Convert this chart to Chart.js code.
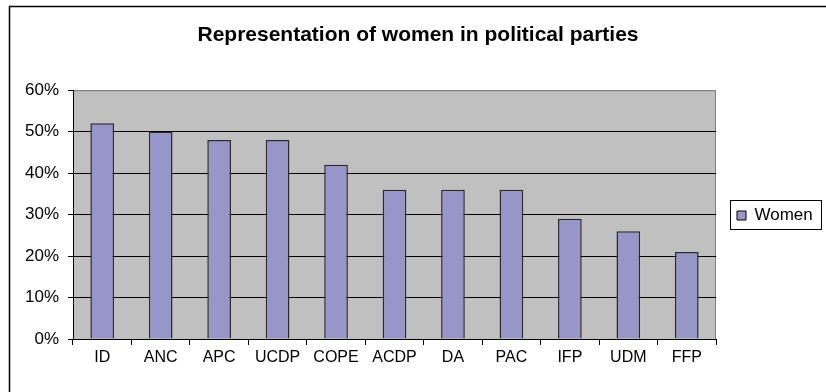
<!DOCTYPE html>
<html>
<head>
<meta charset="utf-8">
<script src="https://cdn.jsdelivr.net/npm/chart.js@4/dist/chart.umd.min.js"></script>
<style>
  html, body { margin: 0; padding: 0; background: #fff; }
  canvas { display: block; }
</style>
</head>
<body>
<canvas id="womenChart" width="826" height="392"></canvas>
<script>
// data
const parties = ["ID", "ANC", "APC", "UCDP", "COPE", "ACDP", "DA", "PAC", "IFP", "UDM", "FFP"];
const womenShare = [52, 50, 48, 48, 42, 36, 36, 36, 29, 26, 21];
const yTicks = [0, 10, 20, 30, 40, 50, 60];
const seriesName = "Women";
const chartTitle = "Representation of women in political parties";

const FONT = "'Liberation Sans', Arial, sans-serif";

// white page, outer chart border, grey plot area
const frame = {
  id: "frame",
  beforeDraw(chart) {
    const ctx = chart.ctx;
    const a = chart.chartArea;
    ctx.save();
    ctx.fillStyle = "#fff";
    ctx.fillRect(0, 0, chart.width, chart.height);
    ctx.strokeStyle = "#000";
    ctx.lineWidth = 1.5;
    ctx.strokeRect(9.5, 6.5, chart.width + 20, chart.height + 20);
    ctx.fillStyle = "#C0C0C0";
    ctx.fillRect(a.left, a.top, a.right - a.left, a.bottom - a.top);
    ctx.strokeStyle = "#808080";
    ctx.lineWidth = 1;
    ctx.strokeRect(a.left + 0.5, a.top + 0.5, a.right - a.left - 1, a.bottom - a.top);
    ctx.restore();
  }
};

// move the legend next to the plot and put a box round it
const legendBox = {
  id: "legendBox",
  afterLayout(chart) {
    const lg = chart.legend;
    const pad = lg.options.labels.padding;
    lg.left = 737 - pad;
    lg.top = 207 - pad;
  },
  afterDraw(chart) {
    const ctx = chart.ctx;
    ctx.save();
    ctx.strokeStyle = "#000";
    ctx.lineWidth = 1;
    ctx.strokeRect(730.5, 200.5, 91, 29);
    ctx.restore();
  }
};

new Chart(document.getElementById("womenChart"), {
  type: "bar",
  data: {
    labels: parties,
    datasets: [
      {
        label: seriesName,
        data: womenShare,
        backgroundColor: "#9696C8",
        borderColor: "#2a2a2a",
        borderWidth: 1.5,
        barPercentage: 0.405,
        categoryPercentage: 1
      }
    ]
  },
  options: {
    responsive: false,
    animation: false,
    layout: { padding: { left: 10, top: 6, right: 0, bottom: 0 } },
    plugins: {
      title: {
        display: true,
        text: chartTitle,
        color: "#000",
        font: { family: FONT, size: 21, weight: "bold", lineHeight: 1.2 },
        padding: { top: 17, bottom: 42 }
      },
      legend: {
        display: true,
        position: "right",
        align: "start",
        maxWidth: 110,
        labels: {
          color: "#000",
          font: { family: FONT, size: 17 },
          boxWidth: 9,
          boxHeight: 9,
          padding: 40,
          generateLabels(chart) {
            const ds = chart.data.datasets[0];
            return [{
              text: ds.label,
              fillStyle: ds.backgroundColor,
              strokeStyle: "#000",
              lineWidth: 1,
              datasetIndex: 0
            }];
          }
        }
      },
      tooltip: { enabled: false }
    },
    scales: {
      x: {
        offset: true,
        afterFit(scale) { scale.height = 53; },
        grid: {
          offset: true,
          drawOnChartArea: false,
          drawTicks: true,
          tickLength: 6,
          tickColor: "#000"
        },
        border: { display: true, color: "#000", width: 1 },
        ticks: {
          color: "#000",
          padding: 3,
          maxRotation: 0,
          autoSkip: false,
          font: { family: FONT, size: 16 }
        }
      },
      y: {
        min: yTicks[0],
        max: yTicks[yTicks.length - 1],
        afterFit(scale) { scale.width = 63; },
        afterBuildTicks(scale) { scale.ticks = yTicks.map(v => ({ value: v })); },
        grid: {
          color: ctx => (ctx.tick && ctx.tick.value === yTicks[yTicks.length - 1]) ? "#808080" : "#000",
          lineWidth: 1,
          drawTicks: true,
          tickLength: 5,
          tickColor: "#000"
        },
        border: { display: true, color: "#000", width: 1 },
        ticks: {
          color: "#000",
          padding: 9,
          font: { family: FONT, size: 17 },
          callback: v => v + "%"
        }
      }
    }
  },
  plugins: [frame, legendBox]
});
</script>
</body>
</html>
